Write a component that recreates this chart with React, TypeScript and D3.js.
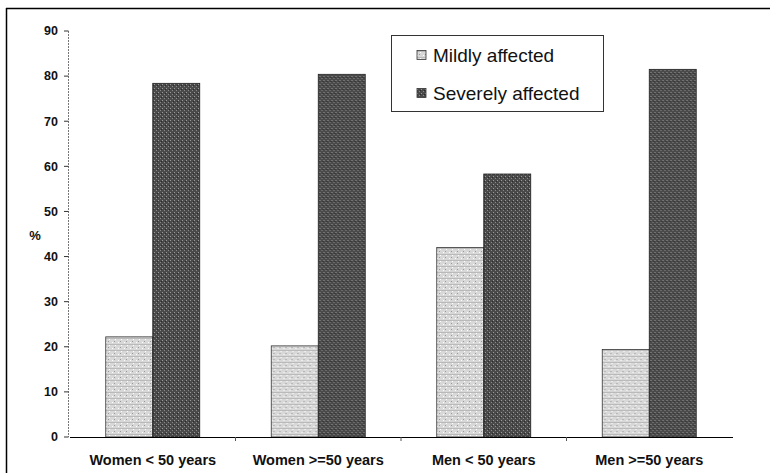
import React from "react";
import * as d3 from "d3";

const categories = ["Women < 50 years", "Women >=50 years", "Men < 50 years", "Men >=50 years"];
const seriesNames = ["Mildly affected", "Severely affected"];
const mildValues = [22.2, 20.2, 42.0, 19.4];
const severeValues = [78.4, 80.4, 58.3, 81.5];
const yTicks = [0, 10, 20, 30, 40, 50, 60, 70, 80, 90];

const W = 770;
const H = 473;

export default function App() {
  const x = d3.scaleBand<string>().domain(categories).range([70, 732]).padding(0);
  const x1 = d3
    .scaleBand<string>()
    .domain(seriesNames)
    .range([(x.bandwidth() - 94) / 2, (x.bandwidth() + 94) / 2])
    .padding(0);
  const y = d3.scaleLinear().domain([0, 90]).range([437, 31]);
  const series = [mildValues, severeValues];
  const fills = ["url(#mild)", "url(#severe)"];
  const font = "'Liberation Sans', Arial, sans-serif";

  return (
    <svg
      width={W}
      height={H}
      style={{ position: "absolute", left: 0, top: 0, background: "#fff" }}
    >
      <defs>
        <pattern id="mild" width="6" height="6" patternUnits="userSpaceOnUse">
          <rect width="6" height="6" fill="#d8d8d8" />
          <rect x="0" y="0" width="1" height="1" fill="#ffffff" />
          <rect x="3" y="3" width="1" height="1" fill="#ffffff" />
          <rect x="0" y="2" width="6" height="1" fill="#bababa" />
          <rect x="2" y="5" width="1" height="1" fill="#999" />
        </pattern>
        <pattern id="severe" width="4" height="4" patternUnits="userSpaceOnUse">
          <rect width="4" height="4" fill="#4a4a4a" />
          <rect x="0" y="0" width="1" height="1" fill="#9a9a9a" />
          <rect x="2" y="2" width="1" height="1" fill="#8a8a8a" />
          <rect x="3" y="1" width="1" height="1" fill="#2a2a2a" />
        </pattern>
      </defs>

      {/* outer frame */}
      <line x1={6} y1={8.5} x2={W} y2={8.5} stroke="#000" strokeWidth={1.5} />
      <line x1={6.5} y1={8} x2={6.5} y2={H} stroke="#000" strokeWidth={1.5} />

      {/* y axis */}
      <line x1={68.5} x2={68.5} y1={y(90)} y2={y(0)} stroke="#777" strokeWidth={1} strokeDasharray="2,1" />
      {yTicks.map((t) => (
        <g key={t}>
          <line x1={64} x2={68.5} y1={y(t)} y2={y(t)} stroke="#333" strokeWidth={1} />
          <text
            x={58}
            y={y(t)}
            dy="0.35em"
            textAnchor="end"
            fontFamily={font}
            fontWeight="bold"
            fontSize={12.5}
            fill="#111"
          >
            {t}
          </text>
        </g>
      ))}
      <text x={35} y={235} dy="0.35em" textAnchor="middle" fontFamily={font} fontWeight="bold" fontSize={13} fill="#111">
        %
      </text>

      {/* bars */}
      {categories.map((c, i) => (
        <g key={c} transform={`translate(${x(c)},0)`}>
          {series.map((vals, s) => (
            <rect
              key={s}
              x={x1(seriesNames[s])}
              y={y(vals[i])}
              width={x1.bandwidth()}
              height={y(0) - y(vals[i])}
              fill={fills[s]}
              stroke={s === 0 ? "#333" : "#222"}
              strokeWidth={0.8}
            />
          ))}
        </g>
      ))}

      {/* x axis */}
      <line x1={70} x2={733} y1={y(0) + 0.5} y2={y(0) + 0.5} stroke="#000" strokeWidth={1} />
      {categories.slice(1).map((c) => (
        <line key={c} x1={x(c)} x2={x(c)} y1={y(0)} y2={y(0) + 4} stroke="#555" strokeWidth={1} />
      ))}
      {categories.map((c) => (
        <text
          key={c}
          x={(x(c) || 0) + x.bandwidth() / 2}
          y={465}
          textAnchor="middle"
          fontFamily={font}
          fontWeight="bold"
          fontSize={14.5}
          fill="#111"
        >
          {c}
        </text>
      ))}

      {/* legend */}
      <rect x={391.5} y={35.5} width={212} height={76} fill="#fff" stroke="#333" strokeWidth={1} />
      {seriesNames.map((n, s) => (
        <g key={n} transform={`translate(417, ${55 + s * 38})`}>
          <rect x={0} y={-4.5} width={9} height={9} fill={fills[s]} stroke="#333" strokeWidth={0.8} />
          <text x={16} y={0} dy="0.35em" fontFamily={font} fontSize={19} fill="#111">
            {n}
          </text>
        </g>
      ))}
    </svg>
  );
}
